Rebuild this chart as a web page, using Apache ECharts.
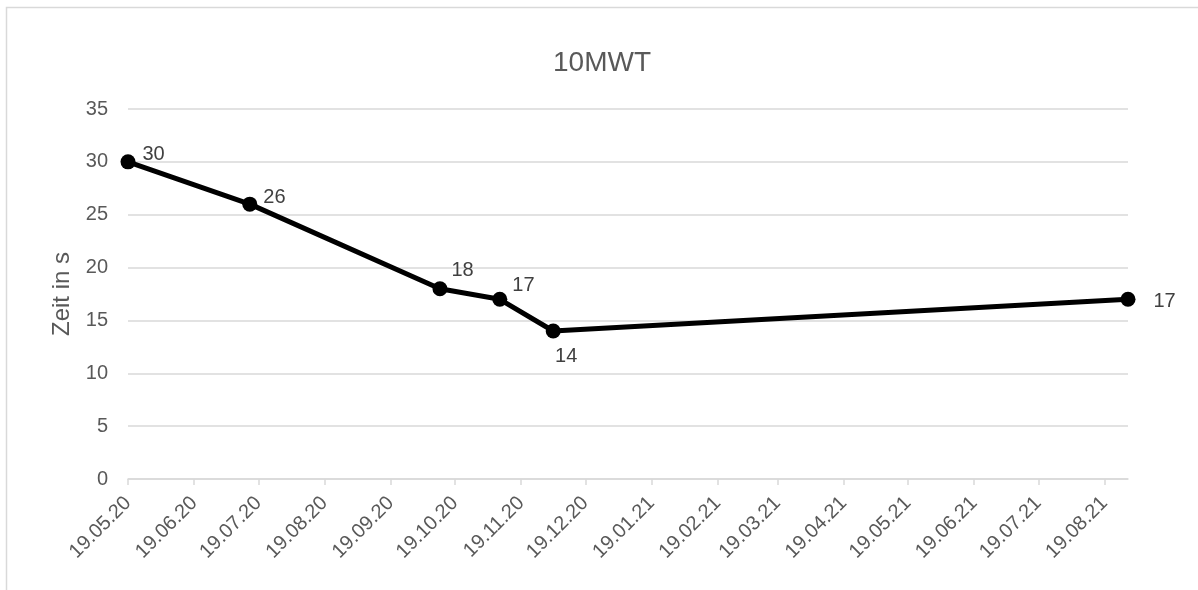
<!DOCTYPE html>
<html>
<head>
<meta charset="utf-8">
<script src="https://cdn.jsdelivr.net/npm/echarts@6/dist/echarts.min.js"></script>
<style>
html,body{margin:0;padding:0;background:#fff;}
#c{width:1198px;height:590px;}
</style>
</head>
<body>
<div id="c"></div>
<script>
var dates = ['2020-05-19','2020-07-15','2020-10-12','2020-11-09','2020-12-04','2021-08-30'];
var values = [30, 26, 18, 17, 14, 17];
var tickDates = ['2020-05-19','2020-06-19','2020-07-19','2020-08-19','2020-09-19','2020-10-19','2020-11-19','2020-12-19','2021-01-19','2021-02-19','2021-03-19','2021-04-19','2021-05-19','2021-06-19','2021-07-19','2021-08-19'];
var axisMin = '2020-05-19';
var axisMax = '2021-08-30';
var yTicks = [0, 5, 10, 15, 20, 25, 30, 35];

function ts(s){ var p = s.split('-'); return Date.UTC(+p[0], +p[1]-1, +p[2]); }
function pad(n){ return (n < 10 ? '0' : '') + n; }
function fmt(v){ var d = new Date(v); return pad(d.getUTCDate()) + '.' + pad(d.getUTCMonth()+1) + '.' + String(d.getUTCFullYear()).slice(2); }

var labelCfg = [
  {position:'right', distance:7, offset:[0,-7]},
  {position:'right', distance:6, offset:[0,-7]},
  {position:'right', distance:4, offset:[0,-18]},
  {position:'right', distance:5, offset:[0,-14]},
  {position:'bottom', distance:8, offset:[13,0]},
  {position:'right', distance:18, offset:[0,2]}
];

var seriesData = dates.map(function(d, i){
  return {value:[ts(d), values[i]], label: labelCfg[i]};
});

var FF = 'Liberation Sans, Arial, sans-serif';
var chart = echarts.init(document.getElementById('c'));
chart.setOption({
  animation:false,
  title:{text:'10MWT', left:597, top:44, textAlign:'center',
    textStyle:{fontFamily:FF, fontSize:28, fontWeight:'normal', color:'#595959'}},
  graphic:[{type:'rect', shape:{x:6.5,y:7.5,width:1220,height:620}, style:{fill:null, stroke:'#d9d9d9', lineWidth:1.5}, silent:true}],
  grid:{left:128, right:70, top:109, bottom:111},
  xAxis:{
    type:'value', min:ts(axisMin), max:ts(axisMax),
    axisLine:{show:true, lineStyle:{color:'#d9d9d9', width:1.5}},
    axisTick:{show:true, length:6, customValues:tickDates.map(ts), lineStyle:{color:'#d9d9d9', width:1.5}},
    splitLine:{show:false},
    axisLabel:{customValues:tickDates.map(ts), formatter:fmt, rotate:45, margin:21,
      fontFamily:FF, fontSize:20, color:'#595959', hideOverlap:false}
  },
  yAxis:{
    type:'value', min:yTicks[0], max:yTicks[yTicks.length-1], interval:5,
    name:'Zeit in s', nameLocation:'middle', nameGap:54,
    nameTextStyle:{fontFamily:FF, fontSize:24, color:'#595959'},
    axisLine:{show:false}, axisTick:{show:false},
    splitLine:{lineStyle:{color:'#d9d9d9', width:1.5}},
    axisLabel:{margin:20, fontFamily:FF, fontSize:20, color:'#595959'}
  },
  series:[{
    type:'line', data:seriesData,
    lineStyle:{color:'#000', width:5},
    itemStyle:{color:'#000'},
    symbol:'circle', symbolSize:15,
    label:{show:true, formatter:function(p){return p.value[1];},
      fontFamily:FF, fontSize:20, color:'#404040'}
  }]
});
</script>
</body>
</html>
